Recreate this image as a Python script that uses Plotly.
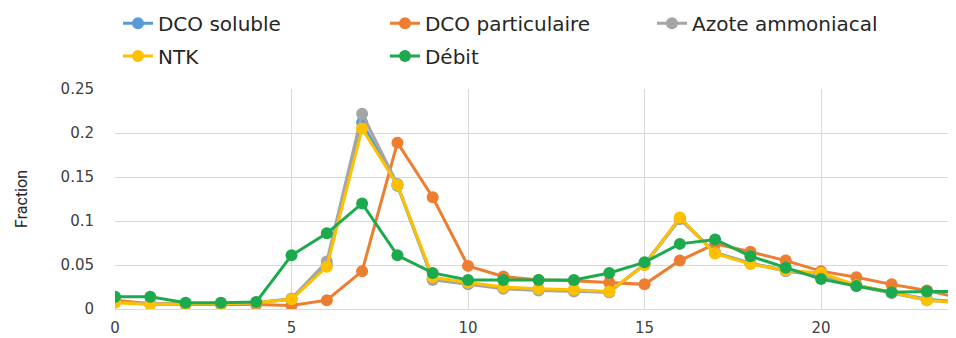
import plotly.graph_objects as go

hours = list(range(25))
dco_soluble = [0.008,0.006,0.006,0.006,0.007,0.011,0.050,0.212,0.140,0.034,0.029,0.024,0.022,0.021,0.019,0.051,0.103,0.064,0.052,0.044,0.039,0.027,0.019,0.011,0.008]
dco_particulaire = [0.010,0.006,0.005,0.005,0.005,0.004,0.010,0.043,0.189,0.127,0.049,0.037,0.033,0.032,0.030,0.028,0.055,0.074,0.065,0.055,0.043,0.036,0.028,0.021,0.012]
azote_ammoniacal = [0.008,0.006,0.006,0.006,0.007,0.012,0.054,0.222,0.142,0.033,0.028,0.023,0.021,0.020,0.019,0.050,0.102,0.064,0.052,0.043,0.038,0.026,0.018,0.010,0.007]
ntk = [0.007,0.005,0.006,0.006,0.007,0.011,0.048,0.205,0.141,0.036,0.030,0.025,0.023,0.022,0.020,0.050,0.104,0.063,0.051,0.044,0.041,0.027,0.019,0.010,0.007]
debit = [0.014,0.014,0.007,0.007,0.008,0.061,0.086,0.120,0.061,0.041,0.033,0.033,0.033,0.033,0.041,0.053,0.074,0.079,0.060,0.047,0.034,0.026,0.019,0.020,0.020]

x_ticks = [0, 5, 10, 15, 20]
y_ticks = [0, 0.05, 0.1, 0.15, 0.2, 0.25]
y_tick_labels = ["0", "0.05", "0.1", "0.15", "0.2", "0.25"]

series = [
    ("DCO soluble", dco_soluble, "#5B9BD5", "legend"),
    ("DCO particulaire", dco_particulaire, "#ED7D31", "legend"),
    ("Azote ammoniacal", azote_ammoniacal, "#A5A5A5", "legend"),
    ("NTK", ntk, "#FFC000", "legend2"),
    ("Débit", debit, "#1DAA4F", "legend2"),
]

fig = go.Figure()
for name, vals, col, leg in series:
    fig.add_trace(go.Scatter(
        x=hours, y=vals, name=name, mode="lines+markers",
        line=dict(color=col, width=3),
        marker=dict(color=col, size=12),
        legend=leg, cliponaxis=True,
    ))

font_family = "DejaVu Sans, sans-serif"
leg_common = dict(
    orientation="h", xanchor="left", yanchor="middle",
    font=dict(family=font_family, size=20, color="#262626"),
    entrywidth=222, entrywidthmode="pixels",
    bgcolor="rgba(0,0,0,0)", traceorder="normal",
)

fig.update_layout(
    width=956, height=338,
    margin=dict(l=107, r=0, t=81, b=36.5, autoexpand=False),
    paper_bgcolor="white", plot_bgcolor="white",
    showlegend=True,
    legend=dict(x=0.0035, y=1.299, **leg_common),
    legend2=dict(x=0.0035, y=1.15, **leg_common),
    xaxis=dict(
        range=[0, 24.05], tickmode="array", tickvals=x_ticks,
        ticktext=[str(v) for v in x_ticks],
        showgrid=True, gridcolor="#D9D9D9", gridwidth=1,
        zeroline=False, showline=False, automargin=False,
        tickfont=dict(family=font_family, size=15, color="#404040"),
        ticks="", ticklabelstandoff=8,
    ),
    yaxis=dict(
        range=[0, 0.25], tickmode="array", tickvals=y_ticks, ticktext=y_tick_labels,
        showgrid=True, gridcolor="#D9D9D9", gridwidth=1,
        zeroline=True, zerolinecolor="#D9D9D9", zerolinewidth=1,
        showline=False, automargin=False,
        tickfont=dict(family=font_family, size=15, color="#404040"),
        ticks="", ticklabelstandoff=20,
        title=dict(text="Fraction", font=dict(family="Liberation Sans Narrow, Roboto, sans-serif", size=16, color="#262626"), standoff=28),
    ),
)

fig.write_html("out.html")
